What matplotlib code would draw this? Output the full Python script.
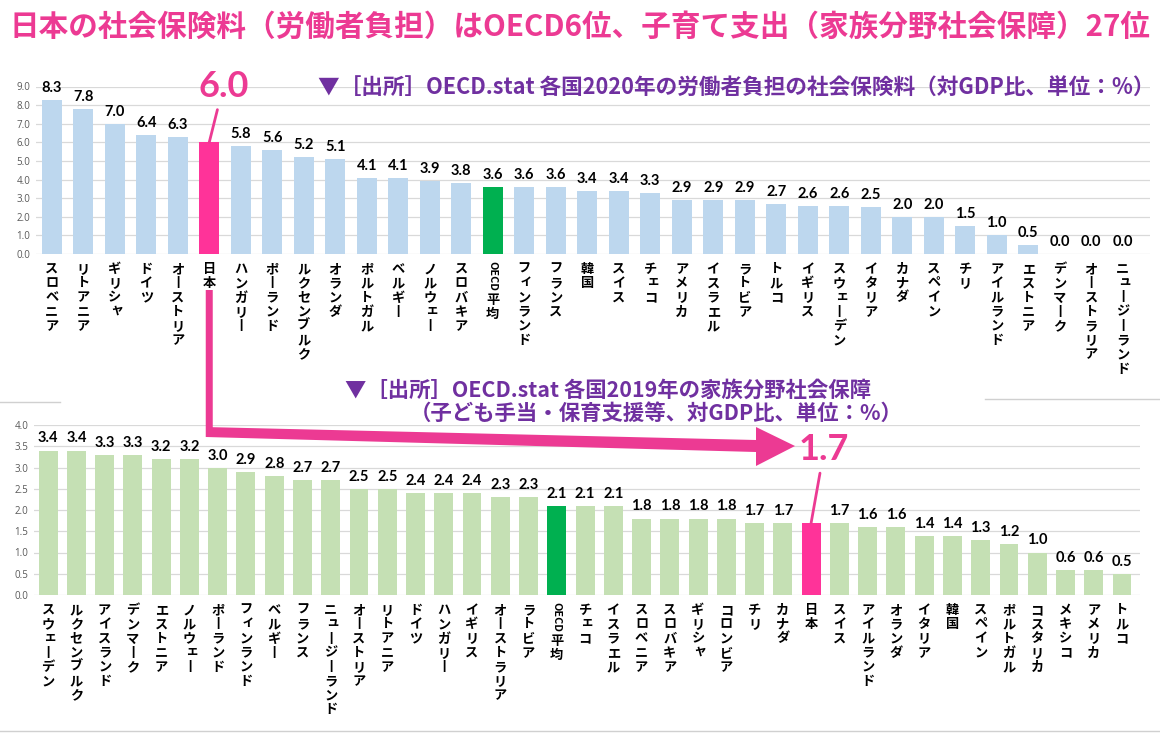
import re
import matplotlib
matplotlib.use('Agg')
import matplotlib.pyplot as plt
from matplotlib.patches import Polygon
from matplotlib.lines import Line2D

W, H = 1160, 733
CJK = ['Noto Sans CJK JP', 'DejaVu Sans']
NUM = ['Lato', 'DejaVu Sans']
TICK = ['Open Sans', 'DejaVu Sans']
plt.rcParams['font.family'] = CJK

# ---------------- data ----------------
top_countries = ['スロベニア', 'リトアニア', 'ギリシャ', 'ドイツ', 'オーストリア', '日本', 'ハンガリー',
                 'ポーランド', 'ルクセンブルク', 'オランダ', 'ポルトガル', 'ベルギー', 'ノルウェー',
                 'スロバキア', 'OECD平均', 'フィンランド', 'フランス', '韓国', 'スイス', 'チェコ',
                 'アメリカ', 'イスラエル', 'ラトビア', 'トルコ', 'イギリス', 'スウェーデン', 'イタリア',
                 'カナダ', 'スペイン', 'チリ', 'アイルランド', 'エストニア', 'デンマーク',
                 'オーストラリア', 'ニュージーランド']
top_values = [8.3, 7.8, 7.0, 6.4, 6.3, 6.0, 5.8, 5.6, 5.2, 5.1, 4.1, 4.1, 3.9, 3.8, 3.6, 3.6,
              3.6, 3.4, 3.4, 3.3, 2.9, 2.9, 2.9, 2.7, 2.6, 2.6, 2.5, 2.0, 2.0, 1.5, 1.0, 0.5,
              0.0, 0.0, 0.0]

bottom_countries = ['スウェーデン', 'ルクセンブルク', 'アイスランド', 'デンマーク', 'エストニア',
                    'ノルウェー', 'ポーランド', 'フィンランド', 'ベルギー', 'フランス',
                    'ニュージーランド', 'オーストリア', 'リトアニア', 'ドイツ', 'ハンガリー',
                    'イギリス', 'オーストラリア', 'ラトビア', 'OECD平均', 'チェコ', 'イスラエル',
                    'スロベニア', 'スロバキア', 'ギリシャ', 'コロンビア', 'チリ', 'カナダ', '日本',
                    'スイス', 'アイルランド', 'オランダ', 'イタリア', '韓国', 'スペイン',
                    'ポルトガル', 'コスタリカ', 'メキシコ', 'アメリカ', 'トルコ']
bottom_values = [3.4, 3.4, 3.3, 3.3, 3.2, 3.2, 3.0, 2.9, 2.8, 2.7, 2.7, 2.5, 2.5, 2.4, 2.4, 2.4,
                 2.3, 2.3, 2.1, 2.1, 2.1, 1.8, 1.8, 1.8, 1.8, 1.7, 1.7, 1.7, 1.7, 1.6, 1.6, 1.4,
                 1.4, 1.3, 1.2, 1.0, 0.6, 0.6, 0.5]

top_yticks = [0, 1, 2, 3, 4, 5, 6, 7, 8, 9]
bottom_yticks = [0.0, 0.5, 1.0, 1.5, 2.0, 2.5, 3.0, 3.5, 4.0]

title = '日本の社会保険料（労働者負担）はOECD6位、子育て支出（家族分野社会保障）27位'
top_source = '▼［出所］OECD.stat 各国2020年の労働者負担の社会保険料（対GDP比、単位：%）'
bottom_source_1 = '▼［出所］OECD.stat 各国2019年の家族分野社会保障'
bottom_source_2 = '（子ども手当・保育支援等、対GDP比、単位：%）'
JAPAN = '日本'
AVERAGE = 'OECD平均'

# ---------------- style ----------------
PINK_BAR = '#FF3399'
PINK = '#EC3A93'
GREEN = '#00B050'
BLUE_LIGHT = '#BDD7EE'
GREEN_LIGHT = '#C5E0B4'
PURPLE = '#7030A0'
GRID = '#D9D9D9'
SMALL_KANA = set('ャュョァィゥェォッ')

fig = plt.figure(figsize=(W / 100, H / 100), dpi=100)
fig.patch.set_facecolor('white')


def fx(px):
    return px / W


def fy(py):
    return 1 - py / H


def make_axes(left, right, top, bottom):
    return fig.add_axes([fx(left), fy(bottom), (right - left) / W, (bottom - top) / H])


def vertical_label(ax, i, label, first_top, pitch=14.2):
    y = first_top
    for tok in re.findall(r'[A-Za-z0-9]+|.', label):
        if tok.isascii():
            h = 7.2 * len(tok)
            ax.annotate(tok, (i, 0), xytext=(0, -(y + h / 2)), textcoords='offset pixels',
                        rotation=-90, ha='center', va='center', fontsize=7.8,
                        fontweight='bold', annotation_clip=False)
            y += h + 2
        else:
            ch = '丨' if tok == 'ー' else tok
            dx, dy = (2, 2) if tok in SMALL_KANA else (0, 0)
            ax.annotate(ch, (i, 0), xytext=(dx, -(y + pitch / 2) + dy),
                        textcoords='offset pixels', ha='center', va='center',
                        fontsize=9.5, fontweight='bold', annotation_clip=False)
            y += pitch


def draw_chart(ax, cats, vals, base_color, yticks, fmt, spacing, left_px, right_px, width):
    xs = list(range(len(cats)))
    colors = [PINK_BAR if c == JAPAN else GREEN if c == AVERAGE else base_color for c in cats]
    ax.bar(xs, vals, width=width, color=colors, zorder=2)
    ax.set_xlim(-0.5, -0.5 + (right_px - left_px) / spacing)
    ax.set_ylim(yticks[0], yticks[-1])
    ax.set_yticks(yticks)
    ax.set_yticklabels([fmt.format(t) for t in yticks], fontsize=7, color='#595959',
                       family=TICK)
    ax.set_xticks([])
    ax.tick_params(axis='y', length=0, pad=4)
    ax.yaxis.grid(True, color=GRID, lw=0.9, zorder=0)
    ax.set_axisbelow(True)
    for s in ax.spines.values():
        s.set_visible(False)
    for i, (c, v) in enumerate(zip(cats, vals)):
        if c != JAPAN:
            ax.annotate(f'{v:.1f}', (i, v), xytext=(0, 5), textcoords='offset pixels',
                        ha='center', va='bottom', fontsize=10.5, fontweight='bold',
                        family=NUM, color='black')
        vertical_label(ax, i, c, 8)


ax1 = make_axes(36, 1150, 86.5, 254)
draw_chart(ax1, top_countries, top_values, BLUE_LIGHT, top_yticks, '{:.1f}', 31.5, 36, 1150, 0.63)

ax2 = make_axes(34, 1140, 425, 595)
draw_chart(ax2, bottom_countries, bottom_values, GREEN_LIGHT, bottom_yticks, '{:.1f}', 28.26, 34, 1140, 0.67)

# ---------------- texts ----------------
fig.text(fx(580), fy(27), title, ha='center', va='center', fontsize=21.3,
         fontweight='bold', color=PINK)
fig.text(fx(318), fy(88), top_source, ha='left', va='center', fontsize=15.6,
         fontweight='bold', color=PURPLE)
fig.text(fx(345), fy(390), bottom_source_1, ha='left', va='center', fontsize=15.4,
         fontweight='bold', color=PURPLE)
fig.text(fx(410), fy(413), bottom_source_2, ha='left', va='center', fontsize=15.4,
         fontweight='bold', color=PURPLE)

jp1 = top_countries.index(JAPAN)
jp2 = bottom_countries.index(JAPAN)
ax1.annotate(f'{top_values[jp1]:.1f}', xy=(jp1, top_values[jp1]), xytext=(14, 56),
             textcoords='offset pixels', ha='center', va='center', fontsize=26,
             fontweight='bold', color=PINK, family=NUM,
             arrowprops=dict(arrowstyle='-', color=PINK, lw=2, shrinkA=3, shrinkB=0))
ax2.annotate(f'{bottom_values[jp2]:.1f}', xy=(jp2, bottom_values[jp2]), xytext=(13, 73),
             textcoords='offset pixels', ha='center', va='center', fontsize=26,
             fontweight='bold', color=PINK, family=NUM,
             arrowprops=dict(arrowstyle='-', color=PINK, lw=2, shrinkA=3, shrinkB=0))

# ---------------- connecting arrow ----------------
fig.canvas.draw()
xj = ax1.transData.transform((jp1, 0))[0]
pts_px = [(xj - 3.5, 290), (xj + 3.5, 290), (xj + 3.5, 427.2), (756, 440), (756, 427),
          (795, 446), (756, 466), (756, 452), (xj - 3.5, 437)]
fig.patches.append(Polygon([(fx(px), fy(py)) for px, py in pts_px], closed=True,
                           transform=fig.transFigure, facecolor=PINK, edgecolor='none',
                           zorder=5))

# faint frame lines
for x0, x1, yy in [(0, 60, 402), (985, 1160, 399), (0, 1160, 731)]:
    fig.lines.append(Line2D([fx(x0), fx(x1)], [fy(yy), fy(yy)], transform=fig.transFigure,
                            color='#D0D0D0', lw=1))

fig.savefig('out.png', dpi=100, facecolor='white')
